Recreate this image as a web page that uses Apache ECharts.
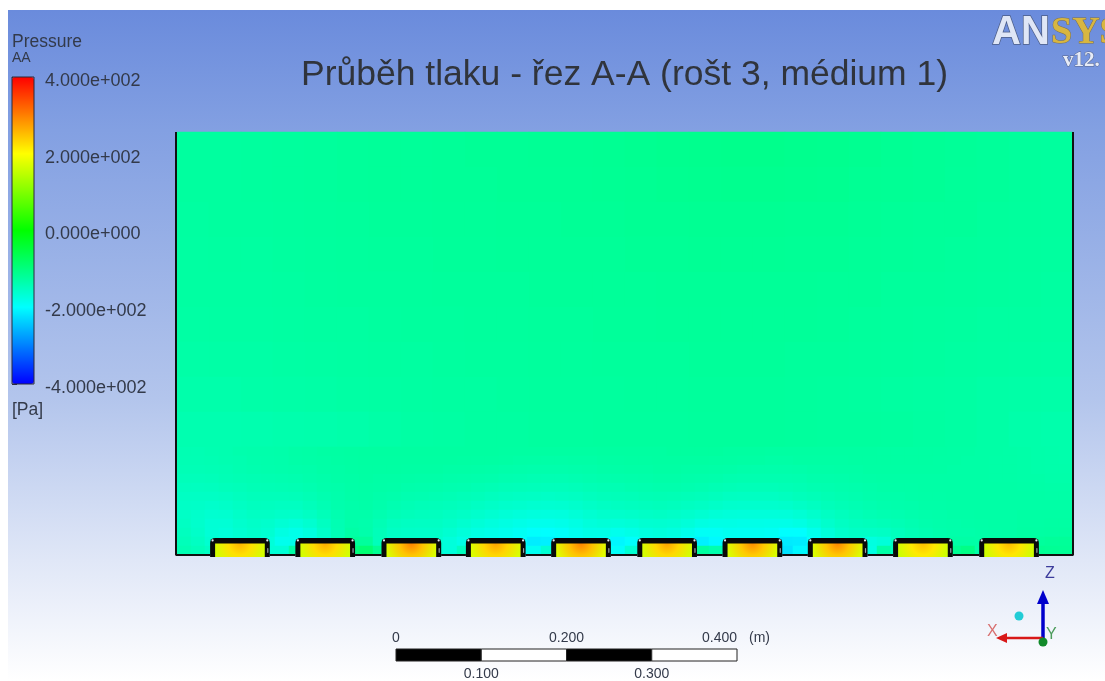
<!DOCTYPE html>
<html><head><meta charset="utf-8">
<style>html,body{margin:0;padding:0;background:#fff}#c{width:1105px;height:681px}</style>
<script src="https://cdn.jsdelivr.net/npm/echarts@6/dist/echarts.min.js"></script>
</head><body><div id="c"></div>
<script>
const titleText = 'Průběh tlaku - řez A-A (rošt 3, médium 1)';
const legendTicks = [-400, -200, 0, 200, 400];
const colourStops = ['#0000ff', '#00ffff', '#00ff00', '#ffff00', '#ff0000'];
const scaleTop = [0, 0.2, 0.4];
const scaleBottom = [0.1, 0.3];
const scaleBreaks = [0, 0.1, 0.2, 0.3, 0.4];
const domainWidth = 1.052;
const domainHeight = 0.496;
const pocketStart = [0.040, 0.140, 0.241, 0.340, 0.440, 0.541, 0.641, 0.741, 0.841, 0.942];
const pocketWidth = 0.070;
const pocketPeak = [260, 265, 300, 272, 298, 272, 290, 295, 250, 255];
const pocketEdge = [165, 165, 170, 170, 175, 165, 170, 170, 160, 160];

const upperField = [
[-125,-125,-124,-123,-122,-121,-120,-120,-119,-118,-118,-117,-116,-115,-114,-112,-111,-110,-110,-111,-112,-114,-116,-118,-119,-121,-122,-124],
[-125,-125,-124,-123,-122,-121,-120,-120,-119,-119,-118,-118,-117,-116,-115,-114,-113,-112,-112,-113,-114,-116,-117,-118,-120,-121,-122,-124],
[-126,-125,-125,-124,-123,-122,-121,-121,-120,-120,-119,-119,-118,-118,-116,-116,-115,-115,-115,-116,-116,-118,-119,-120,-120,-122,-123,-124],
[-127,-126,-126,-125,-124,-123,-122,-122,-121,-121,-120,-120,-119,-119,-118,-118,-117,-117,-117,-118,-118,-119,-120,-121,-122,-123,-124,-125],
[-127,-127,-127,-126,-125,-124,-124,-123,-122,-122,-122,-121,-120,-120,-120,-119,-119,-119,-119,-119,-120,-120,-122,-122,-123,-124,-125,-126],
[-129,-128,-128,-127,-126,-126,-125,-124,-124,-123,-123,-122,-122,-121,-121,-120,-120,-120,-120,-120,-121,-122,-123,-124,-125,-126,-126,-127],
[-131,-130,-130,-129,-128,-127,-126,-126,-125,-124,-124,-123,-123,-122,-122,-122,-121,-121,-121,-122,-122,-123,-124,-125,-126,-127,-128,-129],
[-134,-134,-132,-131,-130,-129,-128,-127,-126,-126,-125,-124,-124,-124,-123,-123,-122,-122,-122,-123,-124,-125,-126,-127,-128,-130,-131,-132],
[-138,-138,-137,-136,-135,-133,-131,-129,-128,-126,-126,-125,-125,-124,-124,-124,-123,-122,-122,-123,-124,-124,-125,-126,-128,-130,-133,-135]
];
const lowerField = [
[-140,-140,-139,-138,-136,-135,-134,-133,-131,-130,-129,-128,-127,-126,-126,-126,-126,-126,-126,-126,-126,-126,-126,-127,-127,-127,-127,-127,-127,-127,-126,-126,-126,-126,-126,-125,-125,-125,-125,-126,-126,-126,-127,-127,-127,-127,-127,-127,-127,-127,-128,-128,-128,-128,-128,-129,-129,-130,-130,-131,-132,-133,-134,-135],
[-141,-141,-140,-139,-138,-136,-135,-134,-132,-131,-130,-129,-128,-127,-127,-127,-127,-127,-127,-127,-128,-128,-128,-129,-130,-130,-131,-131,-130,-130,-129,-129,-128,-128,-127,-127,-127,-127,-128,-128,-129,-129,-130,-130,-129,-129,-129,-129,-128,-128,-128,-128,-128,-128,-129,-129,-130,-130,-131,-131,-132,-133,-134,-135],
[-143,-143,-142,-141,-139,-137,-136,-135,-134,-133,-131,-130,-129,-128,-128,-128,-129,-129,-129,-130,-130,-131,-132,-133,-134,-135,-135,-135,-134,-133,-132,-131,-130,-130,-129,-129,-130,-130,-131,-132,-133,-134,-134,-134,-133,-132,-131,-130,-130,-129,-129,-129,-129,-129,-129,-130,-130,-130,-131,-131,-132,-133,-134,-134],
[-146,-146,-145,-143,-141,-140,-139,-138,-137,-135,-133,-131,-130,-129,-130,-130,-131,-132,-132,-133,-134,-135,-136,-138,-139,-140,-140,-140,-139,-137,-136,-135,-134,-133,-132,-132,-133,-134,-135,-137,-138,-138,-138,-138,-137,-135,-134,-133,-132,-131,-130,-130,-130,-130,-130,-130,-130,-130,-131,-131,-132,-132,-133,-133],
[-150,-150,-149,-147,-145,-143,-142,-141,-140,-138,-135,-133,-131,-130,-131,-132,-134,-135,-136,-137,-138,-140,-142,-144,-145,-146,-147,-147,-145,-143,-141,-140,-138,-137,-136,-136,-137,-139,-141,-143,-144,-144,-144,-143,-141,-139,-137,-136,-135,-133,-132,-131,-131,-130,-130,-130,-130,-130,-130,-130,-131,-131,-132,-132],
[-153,-154,-154,-152,-149,-147,-146,-146,-145,-142,-138,-135,-132,-131,-133,-135,-138,-139,-140,-142,-144,-146,-149,-151,-153,-154,-155,-154,-152,-149,-147,-145,-144,-142,-141,-142,-144,-146,-148,-151,-152,-152,-152,-150,-147,-144,-141,-139,-137,-135,-134,-133,-132,-131,-131,-130,-130,-130,-130,-130,-130,-130,-131,-131],
[-155,-157,-159,-157,-153,-150,-150,-151,-151,-147,-141,-136,-133,-132,-135,-139,-142,-144,-145,-147,-149,-153,-156,-159,-161,-163,-164,-163,-160,-156,-153,-151,-150,-148,-147,-148,-151,-154,-157,-160,-161,-161,-161,-159,-155,-151,-146,-143,-140,-138,-136,-135,-134,-132,-132,-131,-130,-130,-130,-130,-130,-130,-130,-130],
[-155,-159,-163,-162,-157,-153,-154,-157,-158,-153,-145,-138,-133,-133,-138,-143,-146,-148,-149,-152,-155,-160,-164,-168,-171,-173,-174,-173,-169,-164,-160,-159,-158,-155,-154,-156,-160,-164,-168,-170,-171,-171,-171,-170,-166,-160,-153,-148,-144,-141,-139,-138,-136,-134,-133,-132,-131,-130,-130,-130,-129,-129,-129,-129],
[-153,-160,-167,-167,-161,-157,-160,-166,-170,-163,-151,-140,-133,-135,-142,-149,-152,-153,-153,-157,-162,-169,-173,-177,-181,-184,-185,-183,-178,-172,-169,-170,-168,-164,-163,-165,-170,-177,-180,-180,-181,-181,-182,-182,-178,-170,-160,-153,-149,-147,-144,-142,-139,-136,-134,-133,-132,-131,-130,-130,-129,-129,-128,-128],
[-150,-158,-168,-171,-165,-160,-165,-177,-183,-174,-158,-142,-130,-134,-145,-154,-157,-158,-158,-164,-171,-178,-182,-186,-191,-198,-199,-195,-187,-181,-181,-186,-181,-175,-172,-176,-184,-193,-193,-189,-190,-190,-192,-199,-199,-186,-171,-160,-155,-155,-154,-148,-143,-139,-136,-134,-133,-132,-131,-130,-128,-128,-127,-126],
[-146,-153,-164,-172,-168,-164,-171,-186,-185,-180,-164,-143,-120,-122,-146,-160,-160,-161,-162,-172,-180,-186,-188,-192,-198,-214,-212,-204,-194,-188,-194,-206,-198,-184,-180,-186,-199,-212,-204,-194,-194,-196,-200,-216,-214,-198,-180,-167,-160,-176,-170,-152,-146,-142,-139,-130,-130,-132,-131,-129,-125,-123,-121,-120],
[-140,-146,-154,-172,-168,-164,-168,-168,-130,-178,-164,-143,-100,-90,-115,-160,-160,-161,-165,-172,-150,-186,-188,-192,-198,-190,-165,-204,-194,-188,-200,-195,-165,-184,-180,-186,-182,-125,-135,-194,-194,-196,-200,-222,-205,-198,-180,-167,-160,-178,-130,-152,-146,-142,-139,-115,-105,-132,-131,-129,-115,-115,-117,-118]
];

function cellData(rows){
  const out=[];
  rows.forEach((r,y)=>r.forEach((v,x)=>out.push([x,y,v])));
  return out;
}
function indexList(n){return Array.from({length:n},(_,i)=>i);}
function hex2rgb(h){return [1,3,5].map(i=>parseInt(h.substr(i,2),16));}
function pressureColour(v){
  const t=Math.max(0,Math.min(0.9999,(v+400)/800))*(colourStops.length-1);
  const i=Math.floor(t),f=t-i,a=hex2rgb(colourStops[i]),b=hex2rgb(colourStops[i+1]);
  return 'rgb('+a.map((c,k)=>Math.round(c+(b[k]-c)*f)).join(',')+')';
}
function expLabel(v){
  const s=Math.abs(v).toExponential(3).split('e');
  const exp=parseInt(s[1],10);
  return (v<0?'-':'')+s[0]+'e'+(exp<0?'-':'+')+String(Math.abs(exp)).padStart(3,'0');
}
const wallLine=[[0,domainHeight],[0,0]];
pocketStart.forEach(s=>{wallLine.push([s,0]);wallLine.push(['-','-']);wallLine.push([s+pocketWidth,0]);});
wallLine.push([domainWidth,0],[domainWidth,domainHeight]);
const scaleSegments=scaleBreaks.slice(0,-1).map((b,i)=>[b,scaleBreaks[i+1],i%2]);
const pocketData=pocketStart.map((s,i)=>[s,s+pocketWidth,pocketPeak[i],pocketEdge[i]]);

function hiddenAxis(extra){return Object.assign({show:false},extra);}
const SANS='"Liberation Sans",Arial,sans-serif';
const INK='#333a4a';

const chart=echarts.init(document.getElementById('c'),null,{renderer:'canvas'});
chart.setOption({
  animation:false,
  backgroundColor:'#ffffff',
  title:{text:titleText,left:301,top:57,padding:0,textStyle:{fontFamily:SANS,fontSize:35.5,fontWeight:'normal',color:'#30343c'}},
  tooltip:{show:false},
  visualMap:{type:'continuous',min:-400,max:400,seriesIndex:[0,1],left:12,top:77,itemWidth:22,itemHeight:307,
    padding:0,text:['',''],showLabel:false,calculable:false,hoverLink:false,inRange:{color:colourStops}},
  grid:[
    {left:12,top:77,width:22,height:307,show:true,borderColor:'#2a2a3a',borderWidth:1,backgroundColor:'transparent',z:6},
    {left:177,top:132,width:896,height:315},
    {left:177,top:447,width:896,height:108},
    {left:176,top:132,width:897,height:425},
    {left:396,top:649,width:341,height:12}
  ],
  xAxis:[
    hiddenAxis({gridIndex:0,type:'value',min:0,max:1}),
    hiddenAxis({gridIndex:1,type:'category',data:indexList(upperField[0].length)}),
    hiddenAxis({gridIndex:2,type:'category',data:indexList(lowerField[0].length)}),
    hiddenAxis({gridIndex:3,type:'value',min:0,max:domainWidth}),
    {gridIndex:4,type:'value',min:0,max:0.4,position:'top',axisLine:{show:false},axisTick:{show:false},splitLine:{show:false},
      axisLabel:{customValues:scaleTop,alignMaxLabel:'right',margin:4,fontFamily:SANS,fontSize:14,color:INK,
        formatter:v=>v===0?'0':v.toFixed(3)}},
    {gridIndex:4,type:'value',min:0,max:0.4,position:'bottom',axisLine:{show:false},axisTick:{show:false},splitLine:{show:false},
      axisLabel:{customValues:scaleBottom,margin:6,fontFamily:SANS,fontSize:14,color:INK,
        formatter:v=>v.toFixed(3)}}
  ],
  yAxis:[
    {gridIndex:0,type:'value',min:-400,max:400,interval:200,position:'right',splitLine:{show:false},
      axisLine:{show:false},axisTick:{show:true,length:5,lineStyle:{color:'#2a2a3a'}},
      axisLabel:{margin:6,padding:[0,0,0,5],verticalAlign:'top',lineHeight:8,fontFamily:SANS,fontSize:18,color:INK,formatter:expLabel}},
    hiddenAxis({gridIndex:1,type:'category',inverse:true,data:indexList(upperField.length)}),
    hiddenAxis({gridIndex:2,type:'category',inverse:true,data:indexList(lowerField.length)}),
    hiddenAxis({gridIndex:3,type:'value',min:-0.0024,max:domainHeight}),
    hiddenAxis({gridIndex:4,type:'value',min:0,max:1})
  ],
  series:[
    {type:'heatmap',xAxisIndex:1,yAxisIndex:1,data:cellData(upperField),progressive:0,silent:true,itemStyle:{borderWidth:0}},
    {type:'heatmap',xAxisIndex:2,yAxisIndex:2,data:cellData(lowerField),progressive:0,silent:true,itemStyle:{borderWidth:0}},
    {type:'line',xAxisIndex:3,yAxisIndex:3,data:wallLine,showSymbol:false,connectNulls:false,silent:true,clip:false,z:5,
      lineStyle:{color:'#111111',width:2}},
    {type:'custom',xAxisIndex:3,yAxisIndex:3,data:pocketData,silent:true,z:6,clip:false,encode:{x:[0,1]},
      renderItem:function(p,api){
        const a=api.coord([api.value(0),0.020]);
        const b=api.coord([api.value(1),-0.0024]);
        const x=a[0],y=a[1],w=b[0]-a[0],h=b[1]-a[1];
        const peak=api.value(2),edge=api.value(3);
        return {type:'group',children:[
          {type:'rect',shape:{x:x,y:y,width:w,height:h,r:[5,5,0,0]},style:{fill:'#0a0a0a'}},
          {type:'rect',shape:{x:x+5,y:y+5.5,width:w-10,height:h-5.5},style:{fill:{type:'radial',x:0.5,y:0,r:1.9,colorStops:[
            {offset:0,color:pressureColour(peak)},
            {offset:0.45,color:pressureColour((peak+edge)/2+12)},
            {offset:1,color:pressureColour(edge)}]}}},
          {type:'circle',shape:{cx:x+2.5,cy:y+2.5,r:1.1},style:{fill:'#e8ecf4'}},
          {type:'circle',shape:{cx:x+w-2.5,cy:y+2.5,r:1.1},style:{fill:'#e8ecf4'}},
          {type:'rect',shape:{x:x+w-2.6,y:y+10,width:1.2,height:5,r:0.6},style:{fill:'#9aa0ac'}}
        ]};
      }},
    {type:'custom',xAxisIndex:4,yAxisIndex:4,data:scaleSegments,silent:true,encode:{x:[0,1]},
      renderItem:function(p,api){
        const a=api.coord([api.value(0),1]);
        const b=api.coord([api.value(1),0]);
        const filled=api.value(2)===0;
        return {type:'rect',shape:{x:a[0],y:a[1],width:b[0]-a[0],height:b[1]-a[1]},
          style:{fill:filled?'#000000':'#ffffff',stroke:'#222222',lineWidth:1}};
      }}
  ],
  graphic:[
    {type:'rect',z:-10,silent:true,shape:{x:8,y:10,width:1097,height:671},
      style:{fill:{type:'linear',x:0,y:0,x2:0,y2:1,colorStops:[
        {offset:0,color:'#6a8bdc'},{offset:0.18,color:'#83a0e2'},{offset:0.58,color:'#b3c5ec'},
        {offset:0.82,color:'#e0e7f7'},{offset:1,color:'#ffffff'}]}}},
    {type:'text',left:12,top:33,style:{text:'Pressure',font:'17.5px '+SANS,fill:INK}},
    {type:'text',left:12,top:51,style:{text:'AA',font:'14px '+SANS,fill:INK}},
    {type:'text',left:12,top:401,style:{text:'[Pa]',font:'17.5px '+SANS,fill:INK}},
    {type:'text',left:749,top:631,style:{text:'(m)',font:'14px '+SANS,fill:INK}},
    {type:'text',x:992,y:13,style:{text:'AN',font:'bold 40px '+SANS,fill:'#dfe6f6',stroke:'#4b5c86',lineWidth:1.5}},
    {type:'text',x:1051,y:14,style:{text:'SYS',font:'bold 38px "Liberation Serif",serif',fill:'#d8b640',stroke:'#7c7150',lineWidth:1}},
    {type:'text',x:1063,y:50,style:{text:'v12.',font:'bold 21px "Liberation Serif",serif',fill:'#e6ebf7',stroke:'#56658c',lineWidth:1}},
    {type:'line',shape:{x1:1043,y1:640,x2:1043,y2:600},style:{stroke:'#0000cc',lineWidth:3.5}},
    {type:'polygon',shape:{points:[[1043,590],[1037,604],[1049,604]]},style:{fill:'#0000cc'}},
    {type:'line',shape:{x1:1043,y1:638,x2:1005,y2:638},style:{stroke:'#d81818',lineWidth:2.5}},
    {type:'polygon',shape:{points:[[996,638],[1007,633],[1007,643]]},style:{fill:'#d81818'}},
    {type:'circle',shape:{cx:1043,cy:642,r:4.5},style:{fill:'#118a2a'}},
    {type:'circle',shape:{cx:1019,cy:616,r:4.5},style:{fill:'#22ccd6'}},
    {type:'text',x:1045,y:566,style:{text:'Z',font:'16px '+SANS,fill:'#3c3c9c'}},
    {type:'text',x:987,y:624,style:{text:'X',font:'16px '+SANS,fill:'#d87070'}},
    {type:'text',x:1046,y:627,style:{text:'Y',font:'16px '+SANS,fill:'#4c9c5c'}}
  ]
});
</script></body></html>
